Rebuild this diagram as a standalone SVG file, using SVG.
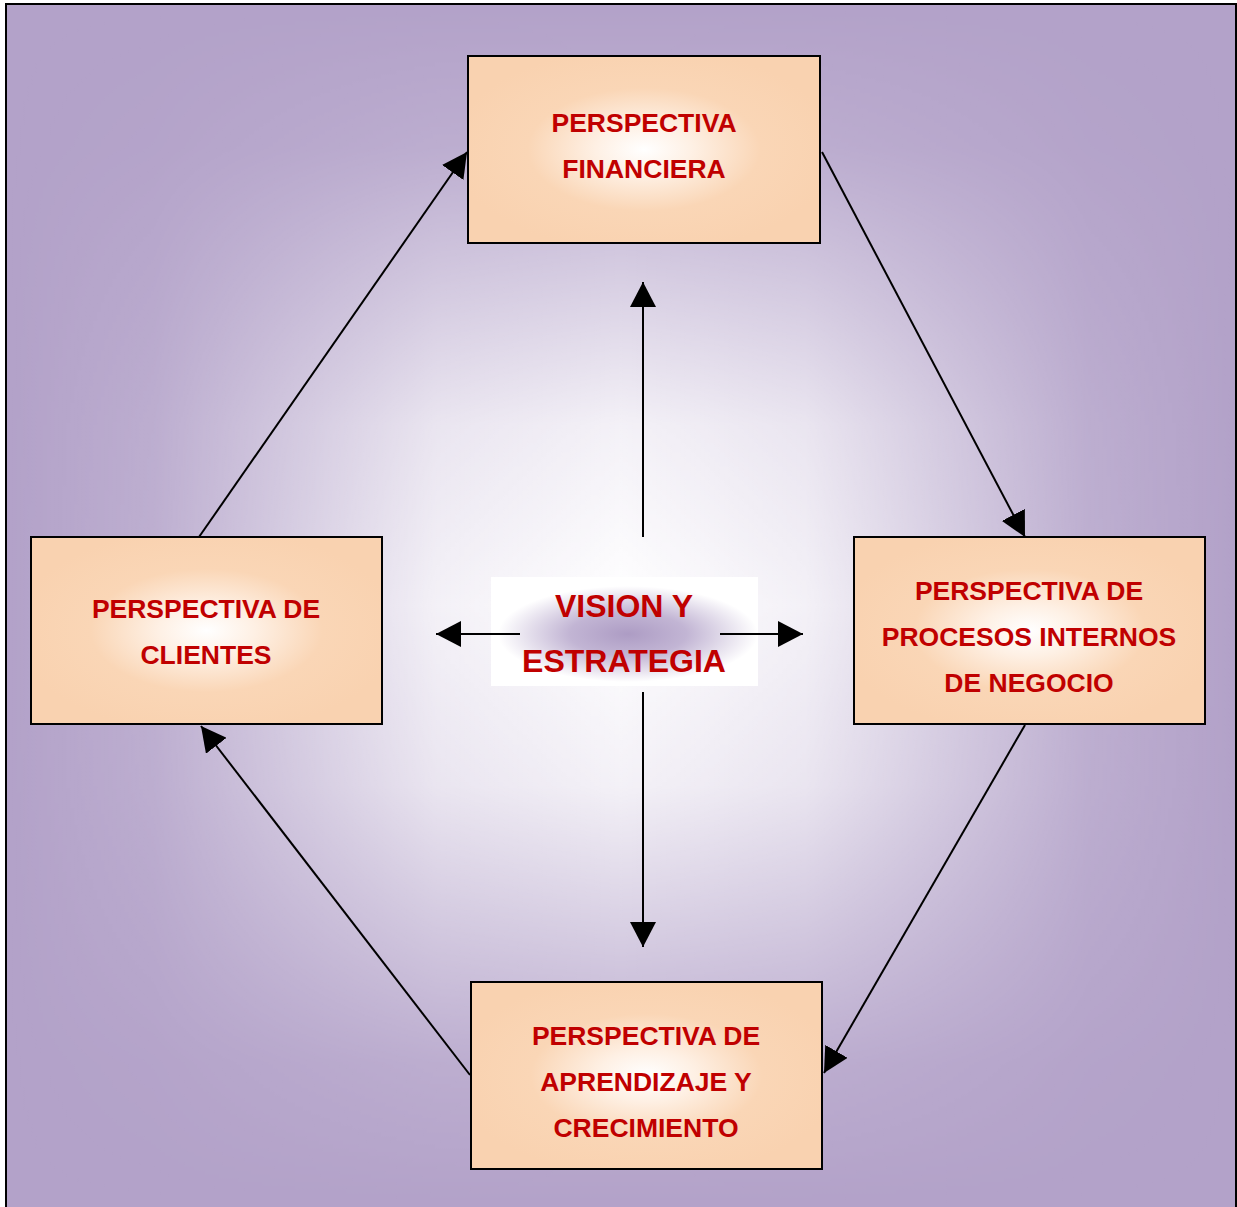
<svg xmlns="http://www.w3.org/2000/svg" width="1237" height="1207" viewBox="0 0 1237 1207">
<style>
.box{stroke:#000;stroke-width:2;fill:url(#peach)}
.t{font-family:"Liberation Sans",Arial,sans-serif;font-weight:bold;fill:#c00000;text-anchor:middle}
.bt{font-size:26.5px}
.ct{font-size:32px}
.c{stroke:#000;stroke-width:2;fill:none;marker-end:url(#ah)}
</style>
<defs>
<linearGradient id="hg" x1="0" y1="0" x2="1" y2="0">
<stop offset="0" stop-color="#fff" stop-opacity="0"/>
<stop offset="0.12" stop-color="#fff" stop-opacity="0.15"/>
<stop offset="0.35" stop-color="#fff" stop-opacity="0.85"/>
<stop offset="0.5" stop-color="#fff" stop-opacity="1"/>
<stop offset="0.65" stop-color="#fff" stop-opacity="0.85"/>
<stop offset="0.88" stop-color="#fff" stop-opacity="0.15"/>
<stop offset="1" stop-color="#fff" stop-opacity="0"/>
</linearGradient>
<linearGradient id="vg" x1="0" y1="0" x2="0" y2="1">
<stop offset="0" stop-color="#fff" stop-opacity="0"/>
<stop offset="0.12" stop-color="#fff" stop-opacity="0.15"/>
<stop offset="0.35" stop-color="#fff" stop-opacity="0.85"/>
<stop offset="0.5" stop-color="#fff" stop-opacity="1"/>
<stop offset="0.65" stop-color="#fff" stop-opacity="0.85"/>
<stop offset="0.88" stop-color="#fff" stop-opacity="0.15"/>
<stop offset="1" stop-color="#fff" stop-opacity="0"/>
</linearGradient>
<mask id="vm" maskUnits="userSpaceOnUse" x="0" y="0" width="1237" height="1207">
<rect x="6" y="4" width="1230" height="1203" fill="url(#vg)"/>
</mask>
<radialGradient id="peach" cx="0.5" cy="0.5" r="0.55">
<stop offset="0" stop-color="#ffffff"/>
<stop offset="0.25" stop-color="#fef0e4"/>
<stop offset="0.6" stop-color="#fad6b6"/>
<stop offset="1" stop-color="#f9d2b0"/>
</radialGradient>
<radialGradient id="glow" cx="0.5" cy="0.5" r="0.5">
<stop offset="0" stop-color="#ad9cc4"/>
<stop offset="0.45" stop-color="#c2b5d4"/>
<stop offset="1" stop-color="#ffffff"/>
</radialGradient>
<marker id="ah" viewBox="0 0 25 26" refX="25" refY="13" markerWidth="25" markerHeight="26" markerUnits="userSpaceOnUse" orient="auto">
<path d="M0,0 L25,13 L0,26 Z" fill="#000"/>
</marker>
</defs>
<g id="background">
<rect x="6" y="4" width="1230" height="1203" fill="#b3a2c9"/>
<rect x="6" y="4" width="1230" height="1203" fill="url(#hg)" mask="url(#vm)"/>
<path d="M6,1207 L6,4 L1236,4 L1236,1207" fill="none" stroke="#000" stroke-width="2"/>
</g>
<g id="vision">
<rect x="491" y="577" width="267" height="109" fill="#fff"/>
<ellipse cx="628" cy="634" rx="130" ry="48" fill="url(#glow)"/>
<text class="t ct" x="624" y="617">VISION Y</text>
<text class="t ct" x="624" y="672">ESTRATEGIA</text>
</g>
<g id="connectors">
<line class="c" x1="643" y1="537" x2="643" y2="282"/>
<line class="c" x1="643" y1="692" x2="643" y2="947"/>
<line class="c" x1="520" y1="634" x2="436" y2="634"/>
<line class="c" x1="720" y1="634" x2="803" y2="634"/>
<line class="c" x1="199" y1="537" x2="467" y2="152"/>
<line class="c" x1="822" y1="152" x2="1025" y2="537"/>
<line class="c" x1="1025" y1="725" x2="824" y2="1073"/>
<line class="c" x1="470" y1="1075" x2="201" y2="726"/>
</g>
<g id="financiera">
<rect class="box" x="468" y="56" width="352" height="187"/>
<text class="t bt" x="644" y="132">PERSPECTIVA</text>
<text class="t bt" x="644" y="178">FINANCIERA</text>
</g>
<g id="clientes">
<rect class="box" x="31" y="537" width="351" height="187"/>
<text class="t bt" x="206" y="618">PERSPECTIVA DE</text>
<text class="t bt" x="206" y="664">CLIENTES</text>
</g>
<g id="procesos">
<rect class="box" x="854" y="537" width="351" height="187"/>
<text class="t bt" x="1029" y="600">PERSPECTIVA DE</text>
<text class="t bt" x="1029" y="646">PROCESOS INTERNOS</text>
<text class="t bt" x="1029" y="692">DE NEGOCIO</text>
</g>
<g id="aprendizaje">
<rect class="box" x="471" y="982" width="351" height="187"/>
<text class="t bt" x="646" y="1045">PERSPECTIVA DE</text>
<text class="t bt" x="646" y="1091">APRENDIZAJE Y</text>
<text class="t bt" x="646" y="1137">CRECIMIENTO</text>
</g>
</svg>
